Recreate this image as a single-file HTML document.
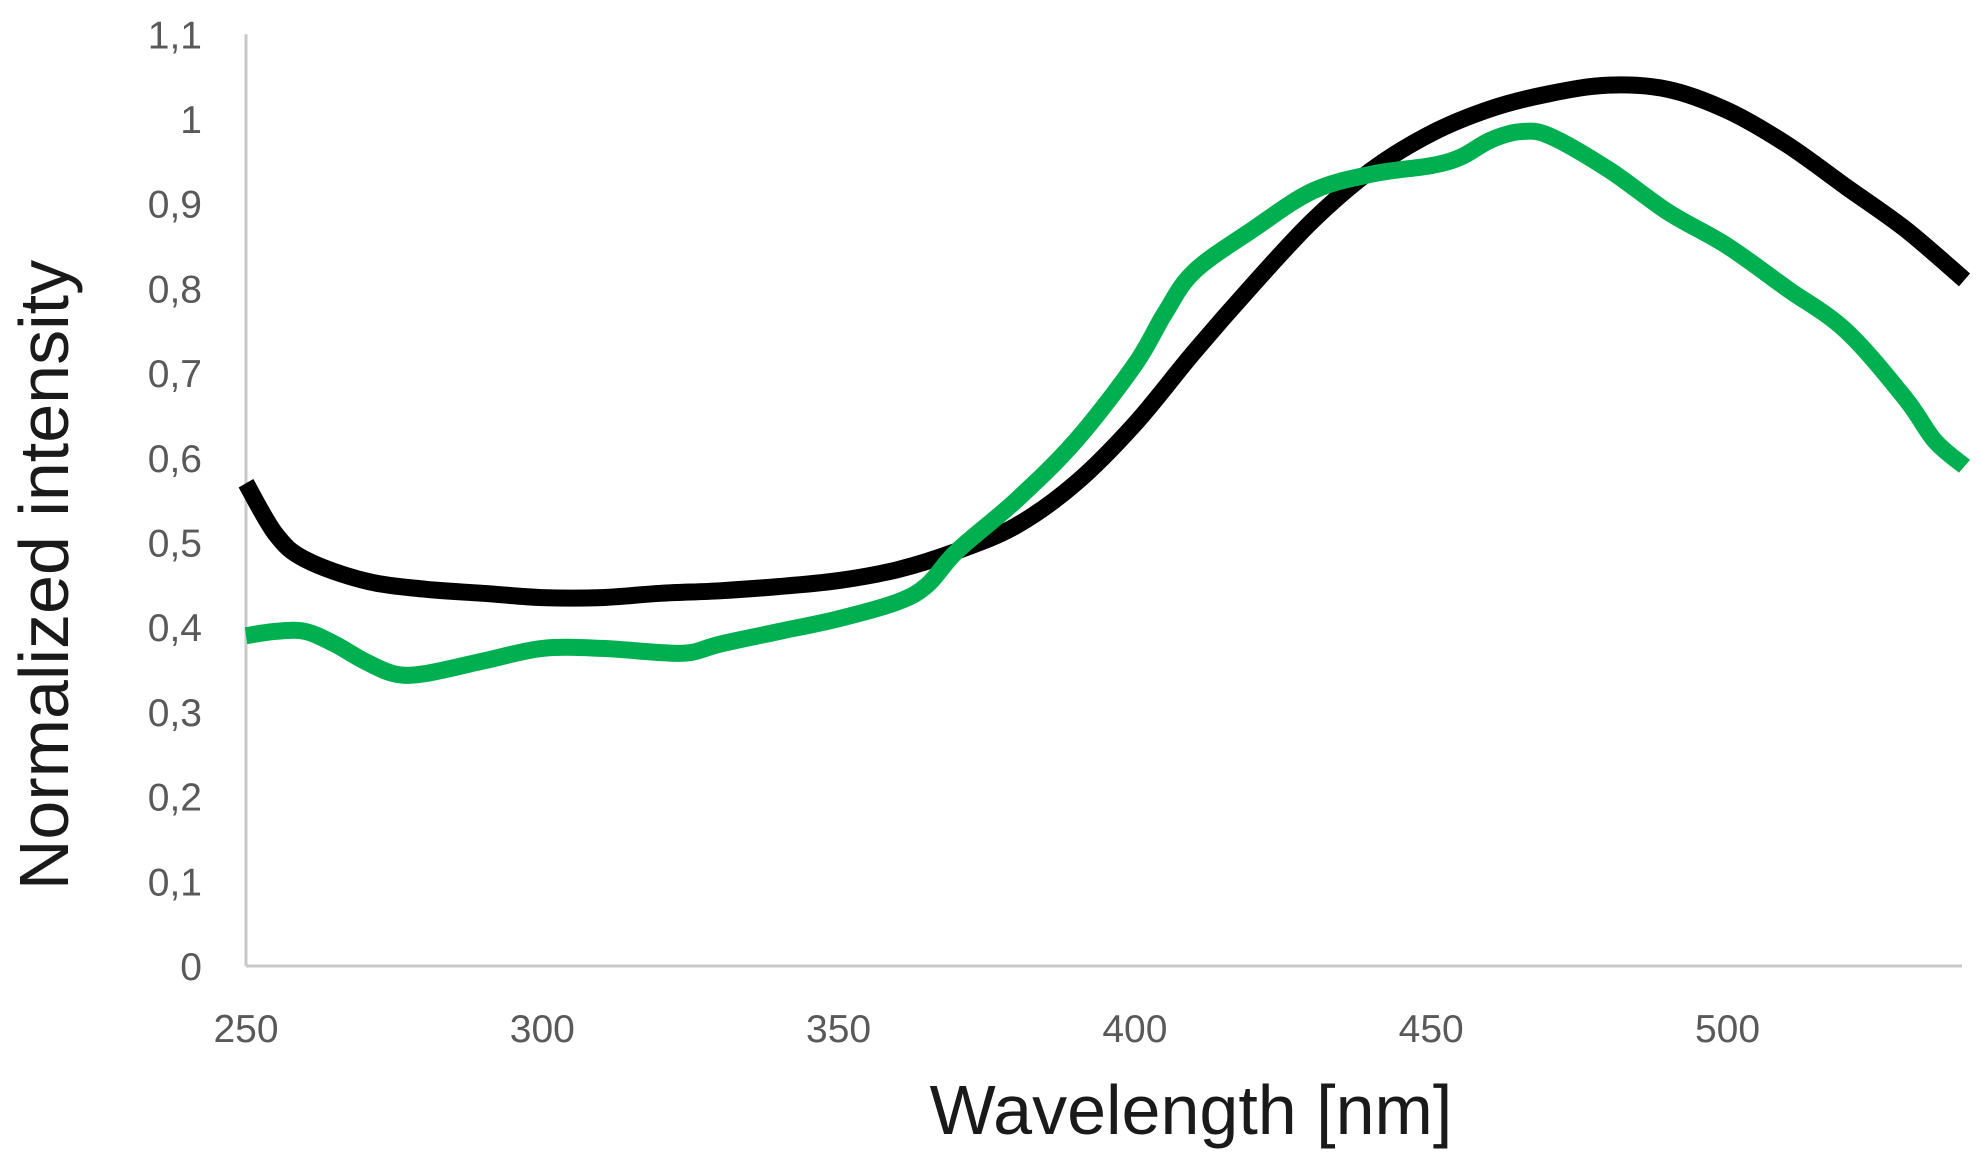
<!DOCTYPE html>
<html><head><meta charset="utf-8"><style>
html,body{margin:0;padding:0;background:#fff;}
svg{display:block;font-family:"Liberation Sans",sans-serif;}
</style></head><body>
<svg id="chart" width="1980" height="1171" viewBox="0 0 1980 1171">
<g id="axes"></g>
<g id="series"></g>
<text x="1191" y="1134" text-anchor="middle" font-size="70" fill="#1a1a1a">Wavelength [nm]</text>
<text transform="translate(68,575) rotate(-90)" text-anchor="middle" font-size="70" fill="#1a1a1a">Normalized intensity</text>
</svg>
<script>
const xTicks=[250,300,350,400,450,500];
const yTicks=[0,0.1,0.2,0.3,0.4,0.5,0.6,0.7,0.8,0.9,1,1.1];
const yTickLabels=["0","0,1","0,2","0,3","0,4","0,5","0,6","0,7","0,8","0,9","1","1,1"];
const blackX=[250,255,260,270,280,290,300,310,320,330,340,350,360,370,380,390,400,410,420,430,440,450,460,470,480,490,500,510,520,530,540];
const blackY=[0.57,0.51,0.48,0.455,0.445,0.44,0.435,0.435,0.44,0.443,0.448,0.455,0.468,0.49,0.52,0.57,0.64,0.725,0.805,0.88,0.94,0.983,1.012,1.03,1.04,1.035,1.01,0.97,0.92,0.87,0.81];
const greenX=[250,255,260,265,270,275,280,290,300,310,320,325,330,340,350,360,365,370,380,390,400,405,410,420,430,440,450,455,460,465,470,480,490,500,510,520,530,535,540];
const greenY=[0.39,0.395,0.395,0.38,0.36,0.345,0.345,0.36,0.375,0.375,0.37,0.37,0.38,0.395,0.41,0.43,0.45,0.49,0.55,0.62,0.71,0.77,0.82,0.87,0.915,0.935,0.945,0.955,0.975,0.985,0.98,0.94,0.89,0.85,0.8,0.75,0.67,0.62,0.59];
const X0=246,Y0=966;
function sx(v){return X0+(v-250)*5.926;}
function sy(v){return Y0-v*847;}
const NS="http://www.w3.org/2000/svg";
const axes=document.getElementById('axes'),series=document.getElementById('series');
function mk(tag,attrs,parent){const e=document.createElementNS(NS,tag);for(const k in attrs)e.setAttribute(k,attrs[k]);parent.appendChild(e);return e;}
const yl=mk('line',{x1:X0,y1:sy(1.1),x2:X0,y2:Y0,stroke:'#c8c8c8','stroke-width':3},axes);


const xl=mk('line',{x1:X0,y1:Y0,x2:1962,y2:Y0,stroke:'#c8c8c8','stroke-width':3},axes);


yTicks.forEach((v,i)=>{const t=mk('text',{x:202,y:sy(v)+14,'text-anchor':'end','font-size':39,fill:'#595959'},axes);t.textContent=yTickLabels[i];

});
xTicks.forEach(v=>{const t=mk('text',{x:sx(v),y:1042,'text-anchor':'middle','font-size':39,fill:'#595959'},axes);t.textContent=String(v);

});
function line(xs,ys,color,name){
const P=xs.map((x,i)=>[sx(x),sy(ys[i])]);
let d='M'+P[0][0].toFixed(1)+' '+P[0][1].toFixed(1);
for(let i=0;i<P.length-1;i++){const p0=P[i-1]||P[i],p1=P[i],p2=P[i+1],p3=P[i+2]||P[i+1];
const c1=[p1[0]+(p2[0]-p0[0])/6,p1[1]+(p2[1]-p0[1])/6],c2=[p2[0]-(p3[0]-p1[0])/6,p2[1]-(p3[1]-p1[1])/6];
d+=' C'+c1[0].toFixed(1)+' '+c1[1].toFixed(1)+' '+c2[0].toFixed(1)+' '+c2[1].toFixed(1)+' '+p2[0].toFixed(1)+' '+p2[1].toFixed(1);}
const p=mk('path',{d:d,fill:'none',stroke:color,'stroke-width':17,'stroke-linejoin':'round','stroke-linecap':'butt'},series);

}
line(blackX,blackY,'#000000','black-series-line');
line(greenX,greenY,'#00b050','green-series-line');
</script>
</body></html>
